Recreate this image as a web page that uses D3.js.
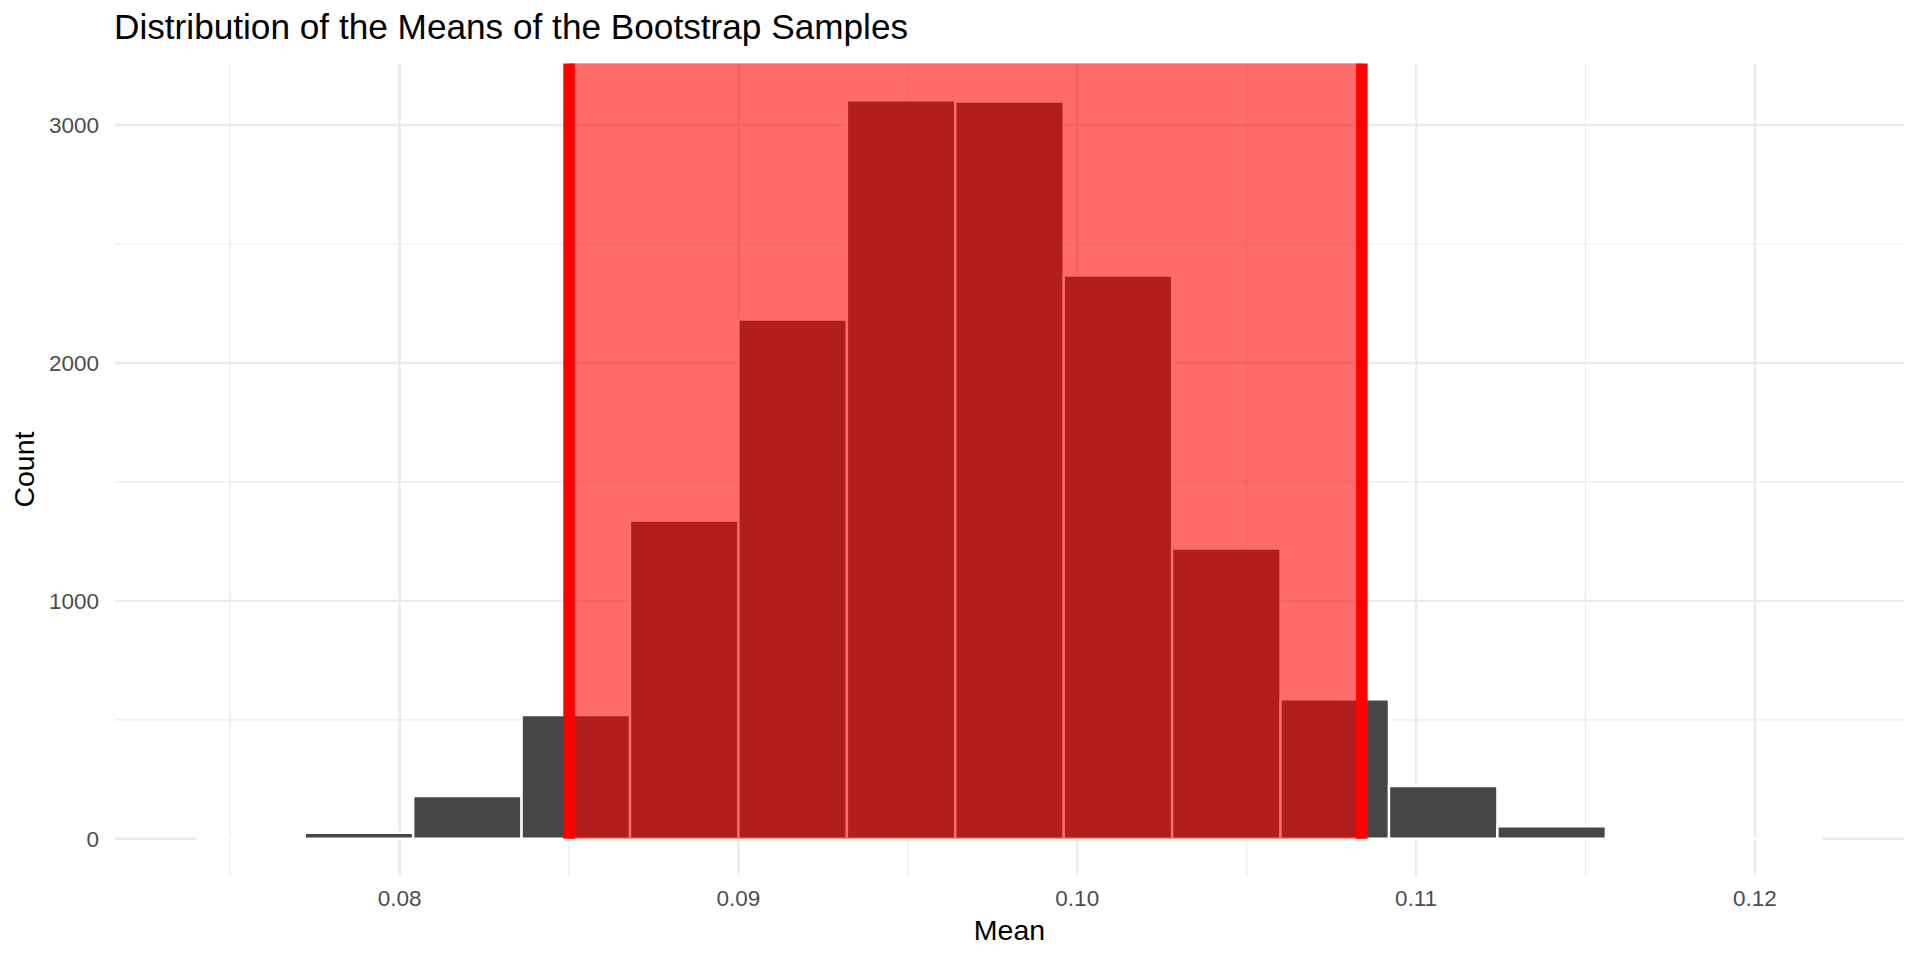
<!DOCTYPE html>
<html>
<head>
<meta charset="utf-8">
<script src="https://cdn.jsdelivr.net/npm/d3@7"></script>
<style>
  body { margin: 0; background: #fff; }
  text { font-family: 'Liberation Sans', Arial, Helvetica, sans-serif; }
</style>
</head>
<body>
<div id="chart"></div>
<script>
// Histogram data
const binStarts = [0.0740, 0.0772, 0.0804, 0.0836, 0.0868, 0.0900, 0.0932, 0.0964,
  0.0996, 0.1028, 0.1060, 0.1092, 0.1124, 0.1156, 0.1188];
const binWidth = 0.0032;
const counts = [0, 25, 180, 520, 1338, 2182, 3104, 3099, 2367, 1220, 586, 222, 52, 0, 0];

// Confidence interval shown in red
const ciLower = 0.0850;
const ciUpper = 0.1084;

const xTicks = [0.08, 0.09, 0.10, 0.11, 0.12];
const xMinor = [0.075, 0.085, 0.095, 0.105, 0.115];
const yTicks = [0, 1000, 2000, 3000];
const yMinor = [500, 1500, 2500];

const titleText = 'Distribution of the Means of the Bootstrap Samples';
const xLabel = 'Mean';
const yLabel = 'Count';

let width = 1920,
  height = 960;
let panel = { left: 115, right: 1904, top: 63.4, bottom: 875.7 };

const svg = d3
  .select('#chart')
  .append('svg')
  .attr('width', width)
  .attr('height', height);

// ggplot style 5% expansion of the data range
let xLo = binStarts[0],
  xHi = binStarts[binStarts.length - 1] + binWidth;
let xPad = (xHi - xLo) * 0.05;
const x = d3.scaleLinear().domain([xLo - xPad, xHi + xPad]).range([panel.left, panel.right]);

let yMax = d3.max(counts);
const y = d3.scaleLinear().domain([-yMax * 0.05, yMax * 1.05]).range([panel.bottom, panel.top]);

// grid
const grid = svg.append('g');
grid.selectAll('.xminor')
  .data(xMinor)
  .join('line')
  .attr('x1', (d) => x(d)).attr('x2', (d) => x(d))
  .attr('y1', panel.top).attr('y2', panel.bottom)
  .attr('stroke', '#ebebeb').attr('stroke-width', 1.2);
grid.selectAll('.yminor')
  .data(yMinor)
  .join('line')
  .attr('y1', (d) => y(d)).attr('y2', (d) => y(d))
  .attr('x1', panel.left).attr('x2', panel.right)
  .attr('stroke', '#ebebeb').attr('stroke-width', 1.2);
grid.selectAll('.xmajor')
  .data(xTicks)
  .join('line')
  .attr('x1', (d) => x(d)).attr('x2', (d) => x(d))
  .attr('y1', panel.top).attr('y2', panel.bottom)
  .attr('stroke', '#ebebeb').attr('stroke-width', 2.4);
grid.selectAll('.ymajor')
  .data(yTicks)
  .join('line')
  .attr('y1', (d) => y(d)).attr('y2', (d) => y(d))
  .attr('x1', panel.left).attr('x2', panel.right)
  .attr('stroke', '#ebebeb').attr('stroke-width', 2.4);

// bars (paths so that empty bins still draw their outline)
svg.append('g')
  .selectAll('path')
  .data(counts.map((c, i) => [binStarts[i], c]))
  .join('path')
  .attr('d', (d) => `M${x(d[0])},${y(0)}H${x(d[0] + binWidth)}V${y(d[1])}H${x(d[0])}Z`)
  .attr('fill', '#474747')
  .attr('stroke', '#ffffff')
  .attr('stroke-width', 2.4);

// shaded interval
svg.append('rect')
  .attr('x', x(ciLower))
  .attr('width', x(ciUpper) - x(ciLower))
  .attr('y', panel.top)
  .attr('height', y(0) - panel.top)
  .attr('fill', '#ff0000')
  .attr('fill-opacity', 0.585);

svg.append('g')
  .selectAll('line')
  .data([ciLower, ciUpper])
  .join('line')
  .attr('x1', (d) => x(d)).attr('x2', (d) => x(d))
  .attr('y1', panel.top).attr('y2', y(0))
  .attr('stroke', '#ff0000')
  .attr('stroke-width', 11.5);

// tick labels
svg.append('g')
  .selectAll('text')
  .data(xTicks)
  .join('text')
  .attr('x', (d) => x(d))
  .attr('y', 906)
  .attr('text-anchor', 'middle')
  .attr('font-size', 22.5)
  .attr('fill', '#4d4d4d')
  .text((d) => d3.format('.2f')(d));

svg.append('g')
  .selectAll('text')
  .data(yTicks)
  .join('text')
  .attr('x', 99)
  .attr('y', (d) => y(d))
  .attr('dy', '0.36em')
  .attr('text-anchor', 'end')
  .attr('font-size', 22.5)
  .attr('fill', '#4d4d4d')
  .text((d) => d);

// titles
svg.append('text')
  .attr('x', (panel.left + panel.right) / 2)
  .attr('y', 940)
  .attr('text-anchor', 'middle')
  .attr('font-size', 28.5)
  .attr('fill', '#000')
  .text(xLabel);

svg.append('text')
  .attr('transform', `translate(33.5,${(panel.top + panel.bottom) / 2}) rotate(-90)`)
  .attr('text-anchor', 'middle')
  .attr('font-size', 28.5)
  .attr('fill', '#000')
  .text(yLabel);

svg.append('text')
  .attr('x', panel.left - 1)
  .attr('y', 39)
  .attr('font-size', 35.2)
  .attr('fill', '#000')
  .text(titleText);
</script>
</body>
</html>
